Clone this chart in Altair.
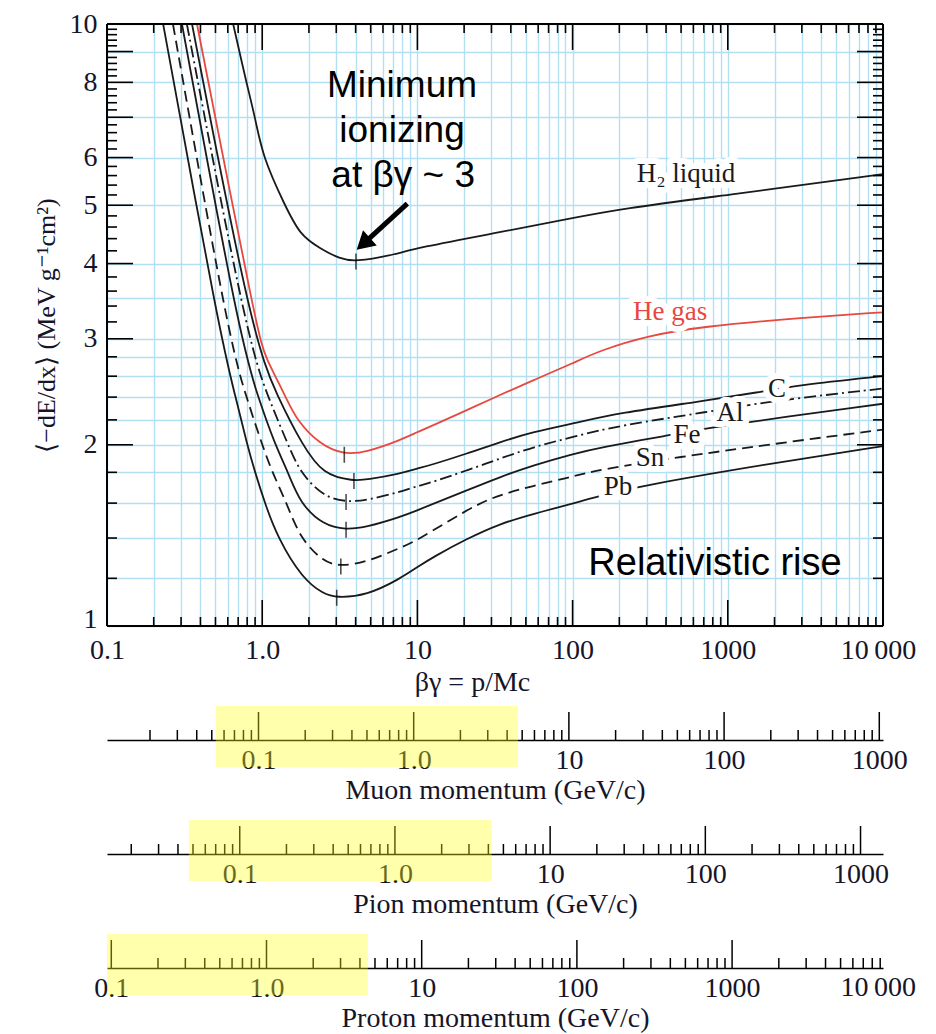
import altair as alt
import pandas as pd

# ---------------- data ----------------
# <-dE/dx> curves (MeV g^-1 cm^2) versus beta*gamma
h2_bg = [0.65, 0.79, 0.90, 1.01, 1.4, 1.75, 2.36, 3.17, 4.0, 6.66, 10, 34, 100, 202, 1000, 10000]
h2_de = [10, 8, 7, 6, 5, 4.46, 4.24, 4.07, 4.03, 4.12, 4.25, 4.51, 4.76, 4.93, 5.20, 5.63]

he_bg = [0.38, 0.95, 1.05, 1.42, 1.66, 2.36, 3.38, 4.71, 7.73, 10, 12.66, 20.8, 34, 55.8, 100, 150, 315, 662, 2917, 10000]
he_de = [10, 3, 2.8, 2.4, 2.2, 2.0, 1.925, 1.945, 2.035, 2.10, 2.155, 2.283, 2.42, 2.56, 2.73, 2.87, 3.04, 3.14, 3.25, 3.32]

c_bg = [0.353, 0.87, 1.26, 1.81, 2.48, 3.9, 4.71, 7.73, 10, 12.66, 20.8, 34, 55.8, 100, 202, 662, 1610, 2790, 10000]
c_de = [10, 3, 2.4, 2.0, 1.78, 1.742, 1.75, 1.791, 1.826, 1.856, 1.933, 2.021, 2.101, 2.169, 2.26, 2.36, 2.447, 2.51, 2.60]

al_bg = [0.327, 0.80, 1.09, 1.47, 1.75, 2.48, 3.47, 4.71, 7.73, 10, 12.66, 20.8, 34, 55.8, 100, 202, 767, 1790, 10000]
al_de = [10, 3, 2.4, 2.0, 1.8, 1.64, 1.607, 1.617, 1.670, 1.708, 1.735, 1.813, 1.897, 1.983, 2.061, 2.155, 2.27, 2.36, 2.48]

fe_bg = [0.304, 0.72, 0.94, 1.21, 1.47, 1.75, 2.48, 3.47, 4.71, 7.73, 10, 12.66, 20.8, 34, 55.8, 100, 150, 405, 767, 10000]
fe_de = [10, 3, 2.4, 2.0, 1.8, 1.6, 1.47, 1.445, 1.460, 1.517, 1.557, 1.596, 1.680, 1.768, 1.849, 1.93, 1.98, 2.07, 2.14, 2.34]

sn_bg = [0.266, 0.61, 0.79, 1.0, 1.16, 1.44, 1.75, 2.48, 3.21, 4.71, 7.73, 10, 20.8, 34, 100, 150, 492, 1790, 10000]
sn_de = [10, 3, 2.4, 2.0, 1.8, 1.6, 1.4, 1.277, 1.256, 1.277, 1.348, 1.388, 1.56, 1.66, 1.77, 1.82, 1.909, 2.0, 2.12]

pb_bg = [0.23, 0.54, 0.675, 0.80, 0.9, 1.04, 1.26, 1.81, 2.48, 3.02, 4.71, 7.73, 10, 12.66, 20.8, 34, 55.8, 100, 135, 284, 1790, 10000]
pb_de = [10, 3, 2.4, 2.0, 1.8, 1.6, 1.4, 1.2, 1.13, 1.114, 1.124, 1.198, 1.253, 1.302, 1.396, 1.479, 1.536, 1.596, 1.634, 1.713, 1.858, 1.99]

# minimum-ionizing marks on each curve
min_bg = [4.02, 3.38, 3.90, 3.47, 3.47, 3.21, 3.02]
min_de = [4.03, 1.925, 1.742, 1.607, 1.445, 1.256, 1.114]

# curve labels
lab_text = ["H\u2082 liquid", "He gas", "C", "Al", "Fe", "Sn", "Pb"]
lab_bg = [538, 425, 2075, 1033, 546, 315, 196]
lab_de = [5.63, 3.32, 2.48, 2.26, 2.08, 1.90, 1.70]
lab_col = ["#1a1a1a", "#e8483f", "#1a1a1a", "#1a1a1a", "#1a1a1a", "#1a1a1a", "#1a1a1a"]

# annotations
ann_text = ["Minimum", "ionizing", "at \u03b2\u03b3 ~ 3"]
ann_bg = [7.96, 7.96, 8.1]
ann_de = [7.56, 6.37, 5.36]
rise_text = ["Relativistic rise"]
rise_bg = [827]
rise_de = [1.215]
arrow_bg = [8.61, 4.63]
arrow_de = [5.03, 4.345]

# axis ticks / labels
x_lab_vals = [0.1, 1, 10, 100, 1000, 10000]
x_lab_text = ["0.1", "1.0", "10", "100", "1000", "10\u2009000"]
x_grid = [round(k * 10 ** e, 6) for e in range(-1, 4) for k in range(1, 10)] + [10000]
x_minor = [v for v in x_grid if v not in x_lab_vals]
y_lab_vals = [1, 2, 3, 4, 5, 6, 8, 10]
y_grid = [1, 1.2, 1.4, 1.6, 1.8, 2, 2.2, 2.4, 2.6, 2.8, 3, 3.5, 4, 5, 6, 7, 8, 9, 10]
y_major = [1, 2, 3, 4, 5, 6, 7, 8, 9, 10]
y_minor = [round(1 + 0.2 * i, 1) for i in range(1, 45) if round(1 + 0.2 * i, 1) not in y_major]

# momentum scales
masses = [0.10566, 0.13957, 0.93827]
p_titles = ["Muon momentum (GeV/c)", "Pion momentum (GeV/c)", "Proton momentum (GeV/c)"]
p_highlight = [[0.053, 4.7], [0.047, 4.2], [0.0938, 4.5]]
p_lab_vals = [[0.1, 1, 10, 100, 1000], [0.1, 1, 10, 100, 1000], [0.1, 1, 10, 100, 1000, 10000]]
p_lab_text = {0.1: "0.1", 1: "1.0", 10: "10", 100: "100", 1000: "1000", 10000: "10\u2009000"}
p_major = [0.01, 0.1, 1, 10, 100, 1000, 10000]
p_minor = [round(k * 10 ** e, 6) for e in range(-2, 4) for k in range(2, 10)]

# ---------------- styling ----------------
W, H = 776, 602
PH = 30
SERIF = "Liberation Serif"
SANS = "Liberation Sans"
TXT = "#15152a"
INK = "#1a1a1a"
GRID = "#b3dff2"
RED = "#e8483f"

xscale = alt.Scale(type="log", domain=[0.1, 10000], nice=False)
yscale = alt.Scale(type="log", domain=[1, 10], nice=False)


def label_expr(vals, texts):
    e = ""
    for v, t in zip(vals, texts):
        e += f"datum.value == {v} ? '{t}' : "
    return e + "''"


x_axis = alt.Axis(
    values=x_grid, grid=True, gridColor=GRID, gridWidth=1.4, ticks=False, tickSize=0,
    domain=False, labelExpr=label_expr(x_lab_vals, x_lab_text), labelFont=SERIF,
    labelFontSize=28, labelColor=TXT, labelPadding=10, labelOverlap=False,
    labelBound=False, labelFlush=False,
    labelOffset={"condition": {"test": "datum.value == 10000", "value": -5}, "value": 0},
    title="\u03b2\u03b3 = p/Mc", titleFont=SERIF,
    titleFontSize=28, titleFontWeight="normal", titleColor=TXT, titlePadding=4,
    titleX=365,
)
y_axis = alt.Axis(
    values=y_grid, grid=True, gridColor=GRID, gridWidth=1.4, ticks=False, tickSize=0,
    domain=False, labelExpr=label_expr(y_lab_vals, [str(v) for v in y_lab_vals]),
    labelFont=SERIF, labelFontSize=28, labelColor=TXT, labelPadding=10,
    labelOverlap=False, labelBound=False, labelFlush=False,
    labelOffset={"condition": {"test": "datum.value == 1", "value": -7}, "value": 0},
    title="\u27e8\u2212dE/dx\u27e9 (MeV g\u207b\u00b9cm\u00b2)", titleFont=SERIF,
    titleFontSize=26, titleFontWeight="normal", titleColor=TXT, titlePadding=10,
)


def X(f):
    return alt.X(f"{f}:Q", scale=xscale, axis=x_axis)


def Y(f):
    return alt.Y(f"{f}:Q", scale=yscale, axis=y_axis)


def curve(bg, de, color, dash=None, width=1.8):
    df = pd.DataFrame({"bg": bg, "de": de, "i": list(range(len(bg)))})
    kw = dict(color=color, strokeWidth=width, clip=True, interpolate="basis")
    if dash:
        kw["strokeDash"] = dash
    return alt.Chart(df).mark_line(**kw).encode(x=X("bg"), y=Y("de"), order="i:Q")


def xticks(vals, length, top):
    ch = alt.Chart(pd.DataFrame({"v": vals})).mark_rule(color="black", strokeWidth=1.6)
    if top:
        return ch.encode(x=X("v"), y=alt.value(0), y2=alt.value(length))
    return ch.encode(x=X("v"), y=alt.value(H), y2=alt.value(H - length))


def yticks(vals, length, right):
    ch = alt.Chart(pd.DataFrame({"v": vals})).mark_rule(color="black", strokeWidth=1.6)
    if right:
        return ch.encode(y=Y("v"), x=alt.value(W), x2=alt.value(W - length))
    return ch.encode(y=Y("v"), x=alt.value(0), x2=alt.value(length))


one = pd.DataFrame({"a": [0]})
frame = [
    alt.Chart(one).mark_rule(color="black", strokeWidth=2).encode(x=alt.value(0), y=alt.value(0), y2=alt.value(H)),
    alt.Chart(one).mark_rule(color="black", strokeWidth=2).encode(x=alt.value(W), y=alt.value(0), y2=alt.value(H)),
    alt.Chart(one).mark_rule(color="black", strokeWidth=2).encode(x=alt.value(0), x2=alt.value(W), y=alt.value(0)),
    alt.Chart(one).mark_rule(color="black", strokeWidth=2).encode(x=alt.value(0), x2=alt.value(W), y=alt.value(H)),
]

curves = [
    curve(h2_bg, h2_de, INK),
    curve(he_bg, he_de, RED),
    curve(c_bg, c_de, INK),
    curve(al_bg, al_de, INK, dash=[12, 4, 2, 4]),
    curve(fe_bg, fe_de, INK),
    curve(sn_bg, sn_de, INK, dash=[11, 6]),
    curve(pb_bg, pb_de, INK),
]

mins = alt.Chart(pd.DataFrame({"bg": min_bg, "de": min_de})).mark_tick(
    orient="vertical", size=16, thickness=1.6, color="black"
).encode(x=X("bg"), y=Y("de"))

lab_df = pd.DataFrame({"t": lab_text, "bg": lab_bg, "de": lab_de, "c": lab_col})
lab_halo = alt.Chart(lab_df).mark_text(
    font=SERIF, fontSize=27, align="center", baseline="middle", stroke="white",
    strokeWidth=12, strokeJoin="round", fill="white"
).encode(x=X("bg"), y=Y("de"), text="t:N")
lab = alt.Chart(lab_df).mark_text(font=SERIF, fontSize=27, align="center", baseline="middle").encode(
    x=X("bg"), y=Y("de"), text="t:N", color=alt.Color("c:N", scale=None),
)

ann = alt.Chart(pd.DataFrame({"t": ann_text, "bg": ann_bg, "de": ann_de})).mark_text(
    font=SANS, fontSize=37, align="center", baseline="alphabetic", color="black"
).encode(x=X("bg"), y=Y("de"), text="t:N")
rise = alt.Chart(pd.DataFrame({"t": rise_text, "bg": rise_bg, "de": rise_de})).mark_text(
    font=SANS, fontSize=38, align="center", baseline="alphabetic", color="black"
).encode(x=X("bg"), y=Y("de"), text="t:N")

arrow_df = pd.DataFrame({"bg": arrow_bg, "de": arrow_de, "i": [0, 1]})
shaft = alt.Chart(arrow_df).mark_line(color="black", strokeWidth=5).encode(x=X("bg"), y=Y("de"), order="i:Q")
head = alt.Chart(arrow_df.iloc[[1]]).mark_point(
    shape="triangle", size=420, angle=228, filled=True, color="black", opacity=1
).encode(x=X("bg"), y=Y("de"))

ticks = [
    xticks(x_lab_vals, 26, False), xticks(x_minor, 9, False),
    xticks(x_lab_vals, 26, True), xticks(x_minor, 9, True),
    yticks(y_major, 26, False), yticks(y_minor, 10, False),
    yticks(y_major, 26, True), yticks(y_minor, 10, True),
]

main = alt.layer(*curves, mins, lab_halo, lab, ann, rise, shaft, head, *ticks, *frame).properties(width=W, height=H)


def panel(mass, title, hl, labvals):
    lo, hi = 0.1 * mass, 1e4 * mass
    sc = alt.Scale(type="log", domain=[lo, hi], nice=False)
    dec = [v for v in p_major if lo <= v <= hi]
    mnr = [v for v in p_minor if lo <= v <= hi]
    inside = [v for v in labvals if v <= hi]
    outside = [v for v in labvals if v > hi]
    axis = alt.Axis(
        values=inside, labelExpr=label_expr(inside, [p_lab_text[v] for v in inside]),
        ticks=False, tickSize=0, grid=False, domain=True, domainColor="black", domainWidth=1.6,
        labelFont=SERIF, labelFontSize=28, labelColor=TXT, labelPadding=6, labelOverlap=False,
        labelBound=False, labelFlush=False, title=title, titleFont=SERIF, titleFontSize=28,
        titleFontWeight="normal", titleColor=TXT, titlePadding=2,
    )
    major_l = alt.Chart(pd.DataFrame({"p": dec})).mark_rule(color="black", strokeWidth=1.5).encode(
        x=alt.X("p:Q", scale=sc, axis=axis), y=alt.value(PH), y2=alt.value(PH - 28)
    )
    minor_l = alt.Chart(pd.DataFrame({"p": mnr})).mark_rule(color="black", strokeWidth=1.5).encode(
        x=alt.X("p:Q", scale=sc, axis=axis), y=alt.value(PH), y2=alt.value(PH - 10)
    )
    hl_l = alt.Chart(pd.DataFrame({"a": [hl[0]], "b": [hl[1]]})).mark_rect(
        color="#ffff1a", opacity=0.36
    ).encode(x=alt.X("a:Q", scale=sc, axis=axis), x2="b:Q", y=alt.value(-4), y2=alt.value(57))
    layers = [major_l, minor_l, hl_l]
    if outside:
        extra = alt.Chart(pd.DataFrame({"p": outside, "t": [p_lab_text[v] for v in outside]})).mark_text(
            font=SERIF, fontSize=28, color=TXT, align="center", baseline="top", dx=-9
        ).encode(x=alt.X("p:Q", scale=sc, axis=axis), y=alt.value(PH + 6), text="t:N")
        layers.append(extra)
    return alt.layer(*layers).properties(width=W, height=PH)


panels = [panel(m, t, h, lv) for m, t, h, lv in zip(masses, p_titles, p_highlight, p_lab_vals)]

chart = alt.vconcat(main, *panels, spacing=84, bounds="flush").properties(
    padding={"left": 32, "top": 9, "right": 5, "bottom": 2}
).configure_view(stroke="transparent")

chart.save("out.html", embed_options={"renderer": "svg", "actions": False})
